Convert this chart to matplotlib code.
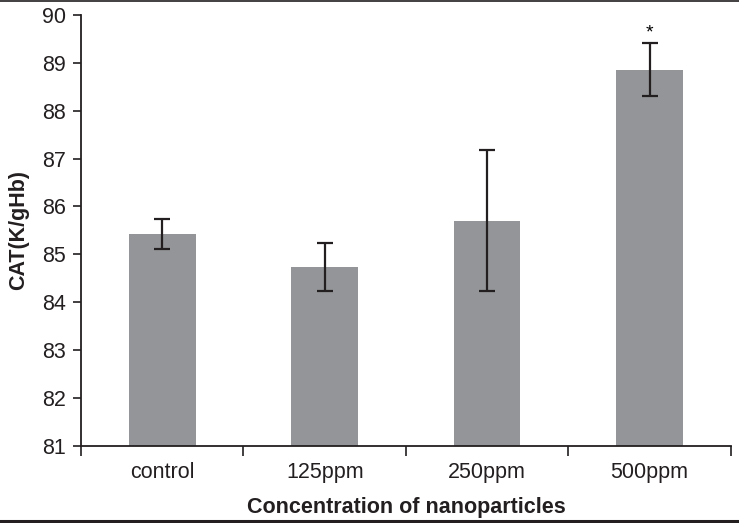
import numpy as np
import matplotlib
matplotlib.use('Agg')
import matplotlib.pyplot as plt
from matplotlib.lines import Line2D

plt.rcParams['font.family'] = ['Liberation Sans', 'DejaVu Sans']

# data
groups = ['control', '125ppm', '250ppm', '500ppm']
cat = [85.42, 84.74, 85.70, 88.86]
err = [0.31, 0.50, 1.47, 0.56]
sig = ['', '', '', '*']

fig = plt.figure(figsize=(7.39, 5.23), dpi=100)
ax = fig.add_axes([0.1096, 0.1478, 0.8794, 0.8235])

x = np.arange(len(groups)) + 0.5
ax.bar(x, np.array(cat) - 81, bottom=81, width=0.41, color='#939598')
ax.errorbar(x, cat, yerr=err, fmt='none', ecolor='#231f20',
            elinewidth=1.6, capsize=5.5, capthick=1.6)
for xi, yi, e, s in zip(x, cat, err, sig):
    if s:
        ax.text(xi, yi + e + 0.03, s, ha='center', va='bottom', fontsize=14)

ax.set_xlim(0, 4)
ax.set_ylim(81, 90)
ax.set_yticks(np.arange(81, 91))
ax.set_xticks(np.arange(0, 5))
ax.set_xticklabels([])
ax.set_xticks(x, minor=True)
ax.set_xticklabels(groups, minor=True)
ax.tick_params(axis='x', which='major', direction='out', length=7.5, width=1.2, color='#231f20')
ax.tick_params(axis='x', which='minor', length=0, pad=12, labelsize=15.5, colors='#231f20')
ax.tick_params(axis='y', direction='out', length=6, width=1.2, labelsize=15.5, colors='#231f20', pad=5)

for sp in ['top', 'right']:
    ax.spines[sp].set_visible(False)
for sp in ['left', 'bottom']:
    ax.spines[sp].set_linewidth(1.3)
    ax.spines[sp].set_color('#231f20')

ax.set_ylabel('CAT(K/gHb)', fontsize=15.5, fontweight='bold', labelpad=9, color='#231f20')
ax.set_xlabel('Concentration of nanoparticles', fontsize=15.5, fontweight='bold', labelpad=10, color='#231f20')

# frame lines above and below the chart
fig.add_artist(Line2D([0, 1], [0.999, 0.999], transform=fig.transFigure, color='#231f20', lw=1.2))
fig.add_artist(Line2D([0, 1], [0.003, 0.003], transform=fig.transFigure, color='#231f20', lw=2.2))

fig.savefig('out.png', dpi=100)
